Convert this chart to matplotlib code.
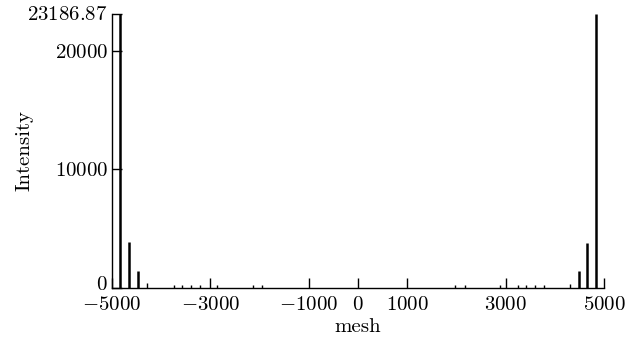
import matplotlib
matplotlib.use("Agg")
import matplotlib.pyplot as plt
import matplotlib.transforms as mtransforms
import numpy as np

plt.rcParams['font.family'] = 'serif'
plt.rcParams['font.serif'] = ['cmr10', 'DejaVu Serif']
plt.rcParams['mathtext.fontset'] = 'cm'
plt.rcParams['axes.unicode_minus'] = False

# peak positions (mesh) and heights (intensity)
mesh = [-4842, -4645, -4469, -4280, -3746, -3570, -3394, -3219, -2866,
        -2136, -1953, 1981, 2170, 2895, 3252, 3422, 3590, 3773,
        4300, 4483, 4659, 4842]
intensity = [23186.87, 3840, 1380, 400, 200, 200, 200, 200, 170,
             180, 180, 170, 170, 180, 170, 170, 170, 170,
             330, 1380, 3770, 23186.87]

xticks = [-5000, -3000, -1000, 0, 1000, 3000, 5000]
xlabels = ['$-5000$', '$-3000$', '$-1000$', '$0$', '$1000$', '$3000$', '$5000$']
yticks = [0, 10000, 20000, 23186.87]
ylabels = ['$0$', '$10000$', '$20000$', '$23186.87$']

fig = plt.figure(figsize=(6.34, 3.38), dpi=100)
ax = fig.add_axes([112/634, 1-287.5/338, (604-112)/634, (287.5-13.5)/338])

mesh = np.array(mesh)
intensity = np.array(intensity)
big = intensity > 1000
ax.vlines(mesh[big], 0, intensity[big], color='black', lw=1.8)
ax.vlines(mesh[~big], 0, intensity[~big], color='black', lw=1.0)

ax.set_xlim(-5000, 5000)
ax.set_ylim(0, 23186.87)
ax.set_xticks(xticks)
ax.set_xticklabels(xlabels)
ax.set_yticks(yticks)
ax.set_yticklabels(ylabels)
ax.tick_params(direction='in', length=7, width=1, labelsize=15)
ax.tick_params(axis='x', pad=6)
ax.tick_params(axis='y', pad=3)
ax.spines['top'].set_visible(False)
ax.spines['right'].set_visible(False)
for s in ['left', 'bottom']:
    ax.spines[s].set_linewidth(1)

# lift the "0" label a little, as in the original
zero = ax.get_yticklabels()[0]
zero.set_transform(zero.get_transform() +
                   mtransforms.ScaledTranslation(0, 4/100, fig.dpi_scale_trans))

ax.set_xlabel('mesh', fontsize=15, labelpad=3)
ax.set_ylabel('Intensity', fontsize=15, labelpad=-4.5)

fig.savefig('out.png', dpi=100)
